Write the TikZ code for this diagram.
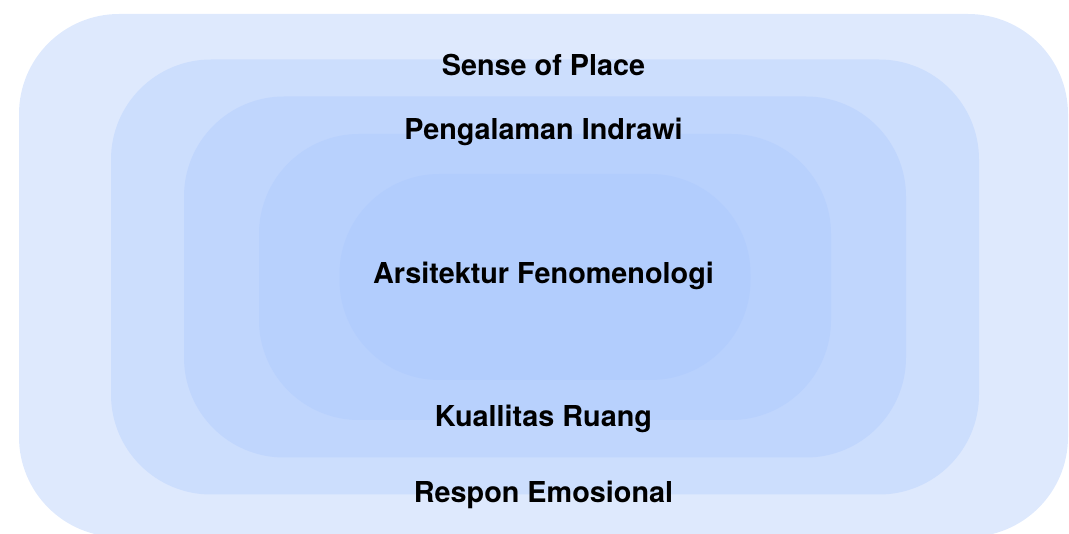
\documentclass[tikz,border=0pt]{standalone}
\usepackage{fontspec}
\setmainfont{TeX Gyre Heros}
\definecolor{layerA}{HTML}{DEE9FD}
\definecolor{layerB}{HTML}{CCDEFD}
\definecolor{layerC}{HTML}{C0D6FD}
\definecolor{layerD}{HTML}{B8D1FD}
\definecolor{layerE}{HTML}{B2CDFD}
\tikzset{
  layer/.style={rectangle, rounded corners=100pt, inner sep=0pt},
  lbl/.style={anchor=base, font=\fontsize{28.8}{31}\selectfont\bfseries, text=black}
}
\begin{document}
\begin{tikzpicture}[x=1pt,y=-1pt]
      \useasboundingbox (0,0) rectangle (1069,534);
      \begin{scope}
      \clip (0,0) rectangle (1069,534);
      \node[layer, fill=layerA, minimum width=1049pt, minimum height=523pt] at (543.5,275.5) (sense) {};
      \node[layer, fill=layerB, minimum width=868pt, minimum height=435pt] at (545,277) (emosi) {};
      \node[layer, fill=layerC, minimum width=722pt, minimum height=361pt] at (545,277) (indra) {};
      \node[layer, fill=layerD, minimum width=572pt, minimum height=286pt] at (545,277) (ruang) {};
      \node[layer, fill=layerE, minimum width=411pt, minimum height=206pt] at (545,277) (feno) {};
      \end{scope}

      % labels
      \node[lbl] at (543.5,76) (tsense) {Sense of Place};
      \node[lbl] at (543.5,139.5) (tindra) {Pengalaman Indrawi};
      \node[lbl] at (543.5,283.5) (tfeno) {Arsitektur Fenomenologi};
      \node[lbl] at (543.5,426.5) (truang) {Kuallitas Ruang};
      \node[lbl] at (543.5,502.5) (temosi) {Respon Emosional};
  \end{tikzpicture}
\end{document}
